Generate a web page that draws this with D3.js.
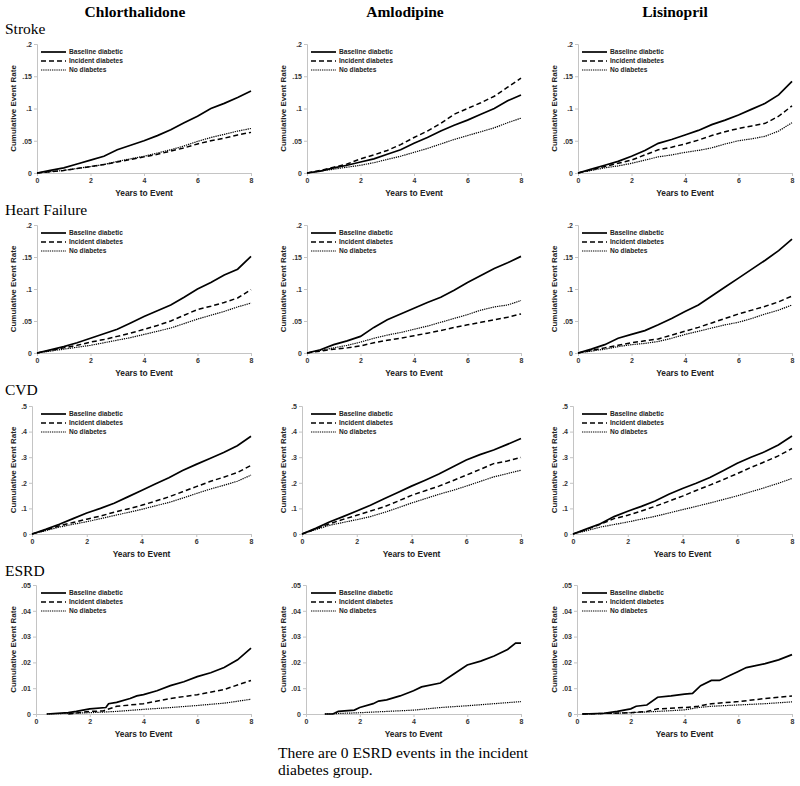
<!DOCTYPE html>
<html><head><meta charset="utf-8">
<script src="https://cdn.jsdelivr.net/npm/d3@7"></script>
<style>body{margin:0;background:#fff}svg{display:block}</style>
</head><body>
<svg id="chart" width="800" height="786"></svg>
<script>
// ---------- DATA ----------
const drugs = ["Chlorthalidone", "Amlodipine", "Lisinopril"];
const outcomes = ["Stroke", "Heart Failure", "CVD", "ESRD"];
const seriesNames = ["Baseline diabetic", "Incident diabetes", "No diabetes"];
const xTicks = [0, 2, 4, 6, 8];
const yTicksStroke = [0, .05, .1, .15, .2];
const yTicksHF = [0, .05, .1, .15, .2];
const yTicksCVD = [0, .1, .2, .3, .4, .5];
const yTicksESRD = [0, .01, .02, .03, .04, .05];
const years = [0,.5,1,1.5,2,2.5,3,3.5,4,4.5,5,5.5,6,6.5,7,7.5,8];

// Stroke
const strokeChlBD = [0,.004,.008,.014,.020,.026,.036,.043,.050,.058,.067,.078,.088,.100,.108,.117,.127];
const strokeChlID = [0,.002,.004,.007,.010,.013,.017,.021,.025,.029,.034,.039,.045,.050,.054,.059,.063];
const strokeChlND = [0,.002,.004,.007,.010,.013,.018,.022,.026,.031,.036,.042,.049,.055,.060,.065,.069];
const strokeAmlBD = [0,.003,.008,.012,.017,.022,.029,.036,.046,.055,.065,.074,.082,.091,.100,.112,.121];
const strokeAmlID = [0,.004,.009,.014,.022,.028,.035,.044,.055,.065,.077,.091,.100,.109,.119,.133,.147];
const strokeAmlND = [0,.003,.006,.009,.012,.016,.021,.026,.032,.038,.045,.052,.058,.064,.070,.078,.085];
const strokeLisBD = [0,.006,.012,.018,.026,.035,.046,.052,.059,.066,.075,.082,.090,.099,.108,.121,.142];
const strokeLisID = [0,.005,.010,.015,.020,.028,.036,.040,.045,.051,.058,.064,.069,.073,.077,.088,.104];
const strokeLisND = [0,.004,.008,.011,.015,.020,.025,.028,.032,.035,.039,.045,.050,.053,.057,.065,.078];
// Heart failure
const hfChlBD = [0,.005,.010,.016,.023,.030,.037,.047,.057,.066,.075,.087,.100,.110,.122,.131,.151];
const hfChlID = [0,.004,.008,.012,.017,.021,.026,.031,.037,.043,.050,.059,.068,.073,.079,.086,.099];
const hfChlND = [0,.003,.006,.009,.012,.016,.020,.024,.029,.034,.039,.046,.053,.059,.065,.072,.078];
const hfAmlBD = [0,.005,.013,.019,.026,.040,.052,.061,.070,.079,.087,.098,.110,.121,.132,.141,.151];
const hfAmlID = [0,.003,.006,.008,.011,.016,.020,.023,.027,.031,.035,.040,.044,.048,.052,.056,.061];
const hfAmlND = [0,.004,.008,.012,.017,.023,.028,.032,.037,.042,.048,.054,.060,.067,.072,.075,.082];
const hfLisBD = [0,.006,.013,.023,.029,.035,.044,.054,.065,.075,.089,.103,.117,.131,.145,.160,.178];
const hfLisID = [0,.004,.008,.012,.016,.019,.022,.028,.034,.040,.047,.054,.061,.067,.073,.080,.089];
const hfLisND = [0,.003,.006,.010,.013,.015,.018,.023,.029,.034,.039,.044,.048,.054,.061,.067,.075];
// CVD
const cvdChlBD = [0,.018,.038,.060,.082,.100,.120,.145,.170,.195,.220,.248,.272,.295,.318,.345,.382];
const cvdChlID = [0,.015,.032,.045,.058,.070,.085,.098,.112,.128,.145,.165,.185,.205,.222,.240,.268];
const cvdChlND = [0,.013,.027,.038,.048,.060,.072,.084,.096,.110,.123,.140,.158,.175,.190,.206,.230];
const cvdAmlBD = [0,.022,.047,.068,.090,.112,.138,.162,.187,.210,.234,.262,.289,.310,.328,.350,.373];
const cvdAmlID = [0,.020,.040,.057,.073,.090,.106,.128,.151,.169,.187,.208,.230,.252,.275,.285,.299];
const cvdAmlND = [0,.017,.034,.045,.056,.068,.084,.102,.121,.138,.155,.170,.187,.205,.223,.236,.249];
const cvdLisBD = [0,.020,.040,.068,.089,.108,.129,.155,.178,.198,.221,.248,.276,.300,.321,.348,.383];
const cvdLisID = [0,.018,.038,.060,.073,.090,.108,.128,.148,.170,.191,.213,.236,.260,.282,.305,.334];
const cvdLisND = [0,.013,.027,.037,.047,.058,.069,.082,.095,.108,.121,.135,.149,.165,.181,.198,.217];
// ESRD (own time points)
const esrdChlBDt = [0.4,1.2,1.5,2,2.6,2.7,3,3.5,3.75,4,4.5,5,5.5,6,6.5,7,7.5,8];
const esrdChlBD  = [0,.0005,.001,.002,.0025,.004,.0045,.006,.007,.0075,.009,.011,.0125,.0145,.016,.018,.021,.0255];
const esrdChlIDt = [1.2,2,2.5,3,4,5,6,7,8];
const esrdChlID  = [0,.001,.0012,.003,.004,.006,.0075,.0095,.013];
const esrdChlNDt = [0.4,1,2,3,4,5,6,7,8];
const esrdChlND  = [0,.0002,.0005,.001,.0018,.0025,.0033,.0042,.0057];
const esrdAmlBDt = [0.7,1,1.2,1.8,2,2.5,2.7,3,3.5,4,4.3,5,5.5,6,6.5,7,7.5,7.8,8];
const esrdAmlBD  = [0,0,.001,.0015,.0025,.004,.005,.0055,.007,.009,.0105,.012,.0155,.019,.0205,.0225,.025,.0275,.0275];
const esrdAmlIDt = [];
const esrdAmlID  = [];
const esrdAmlNDt = [0.7,2,3,4,5,6,7,8];
const esrdAmlND  = [0,.0005,.001,.0015,.0025,.0032,.004,.0048];
const esrdLisBDt = [0.2,1,1.5,2,2.2,2.6,3,3.5,4,4.3,4.6,5,5.3,5.7,6,6.3,7,7.5,8];
const esrdLisBD  = [0,.0003,.001,.002,.003,.0035,.0065,.007,.0077,.008,.011,.013,.013,.015,.0165,.018,.0195,.021,.023];
const esrdLisIDt = [0.2,2,2.6,3,4,4.5,5,6,7,8];
const esrdLisID  = [0,.0005,.001,.002,.0025,.003,.004,.0048,.006,.007];
const esrdLisNDt = [0.2,1,2,3,4,4.5,5,6,7,8];
const esrdLisND  = [0,.0002,.0005,.001,.0016,.0025,.003,.0035,.004,.0047];
const footnote = ["There are 0 ESRD events in the incident", "diabetes group."];

// ---------- assemble ----------
const zipT = (t, v) => v.map((d, i) => [t[i], d]);
const panels = [
  [[zipT(years,strokeChlBD),zipT(years,strokeChlID),zipT(years,strokeChlND)],
   [zipT(years,strokeAmlBD),zipT(years,strokeAmlID),zipT(years,strokeAmlND)],
   [zipT(years,strokeLisBD),zipT(years,strokeLisID),zipT(years,strokeLisND)]],
  [[zipT(years,hfChlBD),zipT(years,hfChlID),zipT(years,hfChlND)],
   [zipT(years,hfAmlBD),zipT(years,hfAmlID),zipT(years,hfAmlND)],
   [zipT(years,hfLisBD),zipT(years,hfLisID),zipT(years,hfLisND)]],
  [[zipT(years,cvdChlBD),zipT(years,cvdChlID),zipT(years,cvdChlND)],
   [zipT(years,cvdAmlBD),zipT(years,cvdAmlID),zipT(years,cvdAmlND)],
   [zipT(years,cvdLisBD),zipT(years,cvdLisID),zipT(years,cvdLisND)]],
  [[zipT(esrdChlBDt,esrdChlBD),zipT(esrdChlIDt,esrdChlID),zipT(esrdChlNDt,esrdChlND)],
   [zipT(esrdAmlBDt,esrdAmlBD),zipT(esrdAmlIDt,esrdAmlID),zipT(esrdAmlNDt,esrdAmlND)],
   [zipT(esrdLisBDt,esrdLisBD),zipT(esrdLisIDt,esrdLisID),zipT(esrdLisNDt,esrdLisND)]]
];
const yTickSets = [yTicksStroke, yTicksHF, yTicksCVD, yTicksESRD];

// ---------- layout ----------
const colBase = [0, 270, 541];
const rowTop = [44, 225, 406, 585];
const rowBottom = [173, 353, 534, 714];
const rowLeft = [37, 37, 32, 36];
const plotRight = 251;
const rowLabelY = [34, 215, 395, 576];
const headerX = [135, 405, 675];
const styles = [
  {w: 1.7, dash: null},
  {w: 1.5, dash: "5,3"},
  {w: 1.2, dash: "1.3,0.9"}
];
const sans = "'Liberation Sans', Arial, sans-serif";
const serif = "'Liberation Serif', 'Times New Roman', serif";
const fmt = d => d === 0 ? "0" : String(+d.toFixed(3)).replace(/^0/, "");

const svg = d3.select("#chart");

// headers
svg.selectAll("text.hdr").data(drugs).join("text")
  .attr("x", (d, i) => headerX[i]).attr("y", 17)
  .attr("text-anchor", "middle").attr("font-family", serif)
  .attr("font-weight", "bold").attr("font-size", 15.5).text(d => d);

// row labels
svg.selectAll("text.rl").data(outcomes).join("text")
  .attr("x", 5).attr("y", (d, i) => rowLabelY[i])
  .attr("font-family", serif).attr("font-size", 15.5).text(d => d);

for (let r = 0; r < 4; r++) {
  const ticks = yTickSets[r];
  for (let c = 0; c < 3; c++) {
    const x0 = colBase[c] + rowLeft[r], x1 = colBase[c] + plotRight;
    const x = d3.scaleLinear().domain([0, 8]).range([x0, x1]);
    const y = d3.scaleLinear().domain([0, ticks[ticks.length - 1]]).range([rowBottom[r], rowTop[r]]);
    const g = svg.append("g");

    // axes
    const ax = g.append("g").attr("transform", `translate(0,${rowBottom[r]})`)
      .call(d3.axisBottom(x).tickValues(xTicks).tickFormat(d3.format("d")).tickSize(3).tickPadding(2));
    const ay = g.append("g").attr("transform", `translate(${x0},0)`)
      .call(d3.axisLeft(y).tickValues(ticks).tickFormat(fmt).tickSize(3).tickPadding(2));
    [ax, ay].forEach(a => {
      a.select(".domain").attr("stroke", "#c4c4c4").attr("stroke-width", 1);
      a.selectAll(".tick line").attr("stroke", "#c4c4c4");
      a.selectAll(".tick text").attr("font-family", sans).attr("font-weight", "bold")
        .attr("font-size", 7).attr("fill", "#333");
    });

    // axis titles
    g.append("text").attr("x", (x0 + x1) / 2).attr("y", rowBottom[r] + 23)
      .attr("text-anchor", "middle").attr("font-family", sans).attr("font-weight", "bold")
      .attr("font-size", 8.4).attr("fill", "#222").text("Years to Event");
    const cy = (rowTop[r] + rowBottom[r]) / 2, cx = colBase[c] + 13;
    g.append("text").attr("transform", `translate(${cx},${cy}) rotate(-90)`)
      .attr("text-anchor", "middle").attr("dy", "0.35em").attr("font-family", sans)
      .attr("font-weight", "bold").attr("font-size", 8).attr("fill", "#222")
      .text("Cumulative Event Rate");

    // lines
    const line = d3.line().x(d => x(d[0])).y(d => y(d[1]));
    panels[r][c].forEach((s, k) => {
      if (!s.length) return;
      g.append("path").datum(s).attr("d", line).attr("fill", "none")
        .attr("stroke", "#000").attr("stroke-width", styles[k].w)
        .attr("stroke-dasharray", styles[k].dash);
    });

    // legend
    seriesNames.forEach((n, k) => {
      const ly = rowTop[r] + 8 + k * 9;
      g.append("line").attr("x1", colBase[c] + 41).attr("x2", colBase[c] + 66)
        .attr("y1", ly).attr("y2", ly).attr("stroke", "#000")
        .attr("stroke-width", styles[k].w).attr("stroke-dasharray", styles[k].dash);
      g.append("text").attr("x", colBase[c] + 69).attr("y", ly).attr("dy", "0.35em")
        .attr("font-family", sans).attr("font-weight", "bold").attr("font-size", 6.6)
        .attr("fill", "#222").text(n);
    });
  }
}

// footnote
svg.selectAll("text.fn").data(footnote).join("text")
  .attr("x", 278).attr("y", (d, i) => 758 + i * 17)
  .attr("font-family", serif).attr("font-size", 15.5).text(d => d);
</script>
</body></html>
